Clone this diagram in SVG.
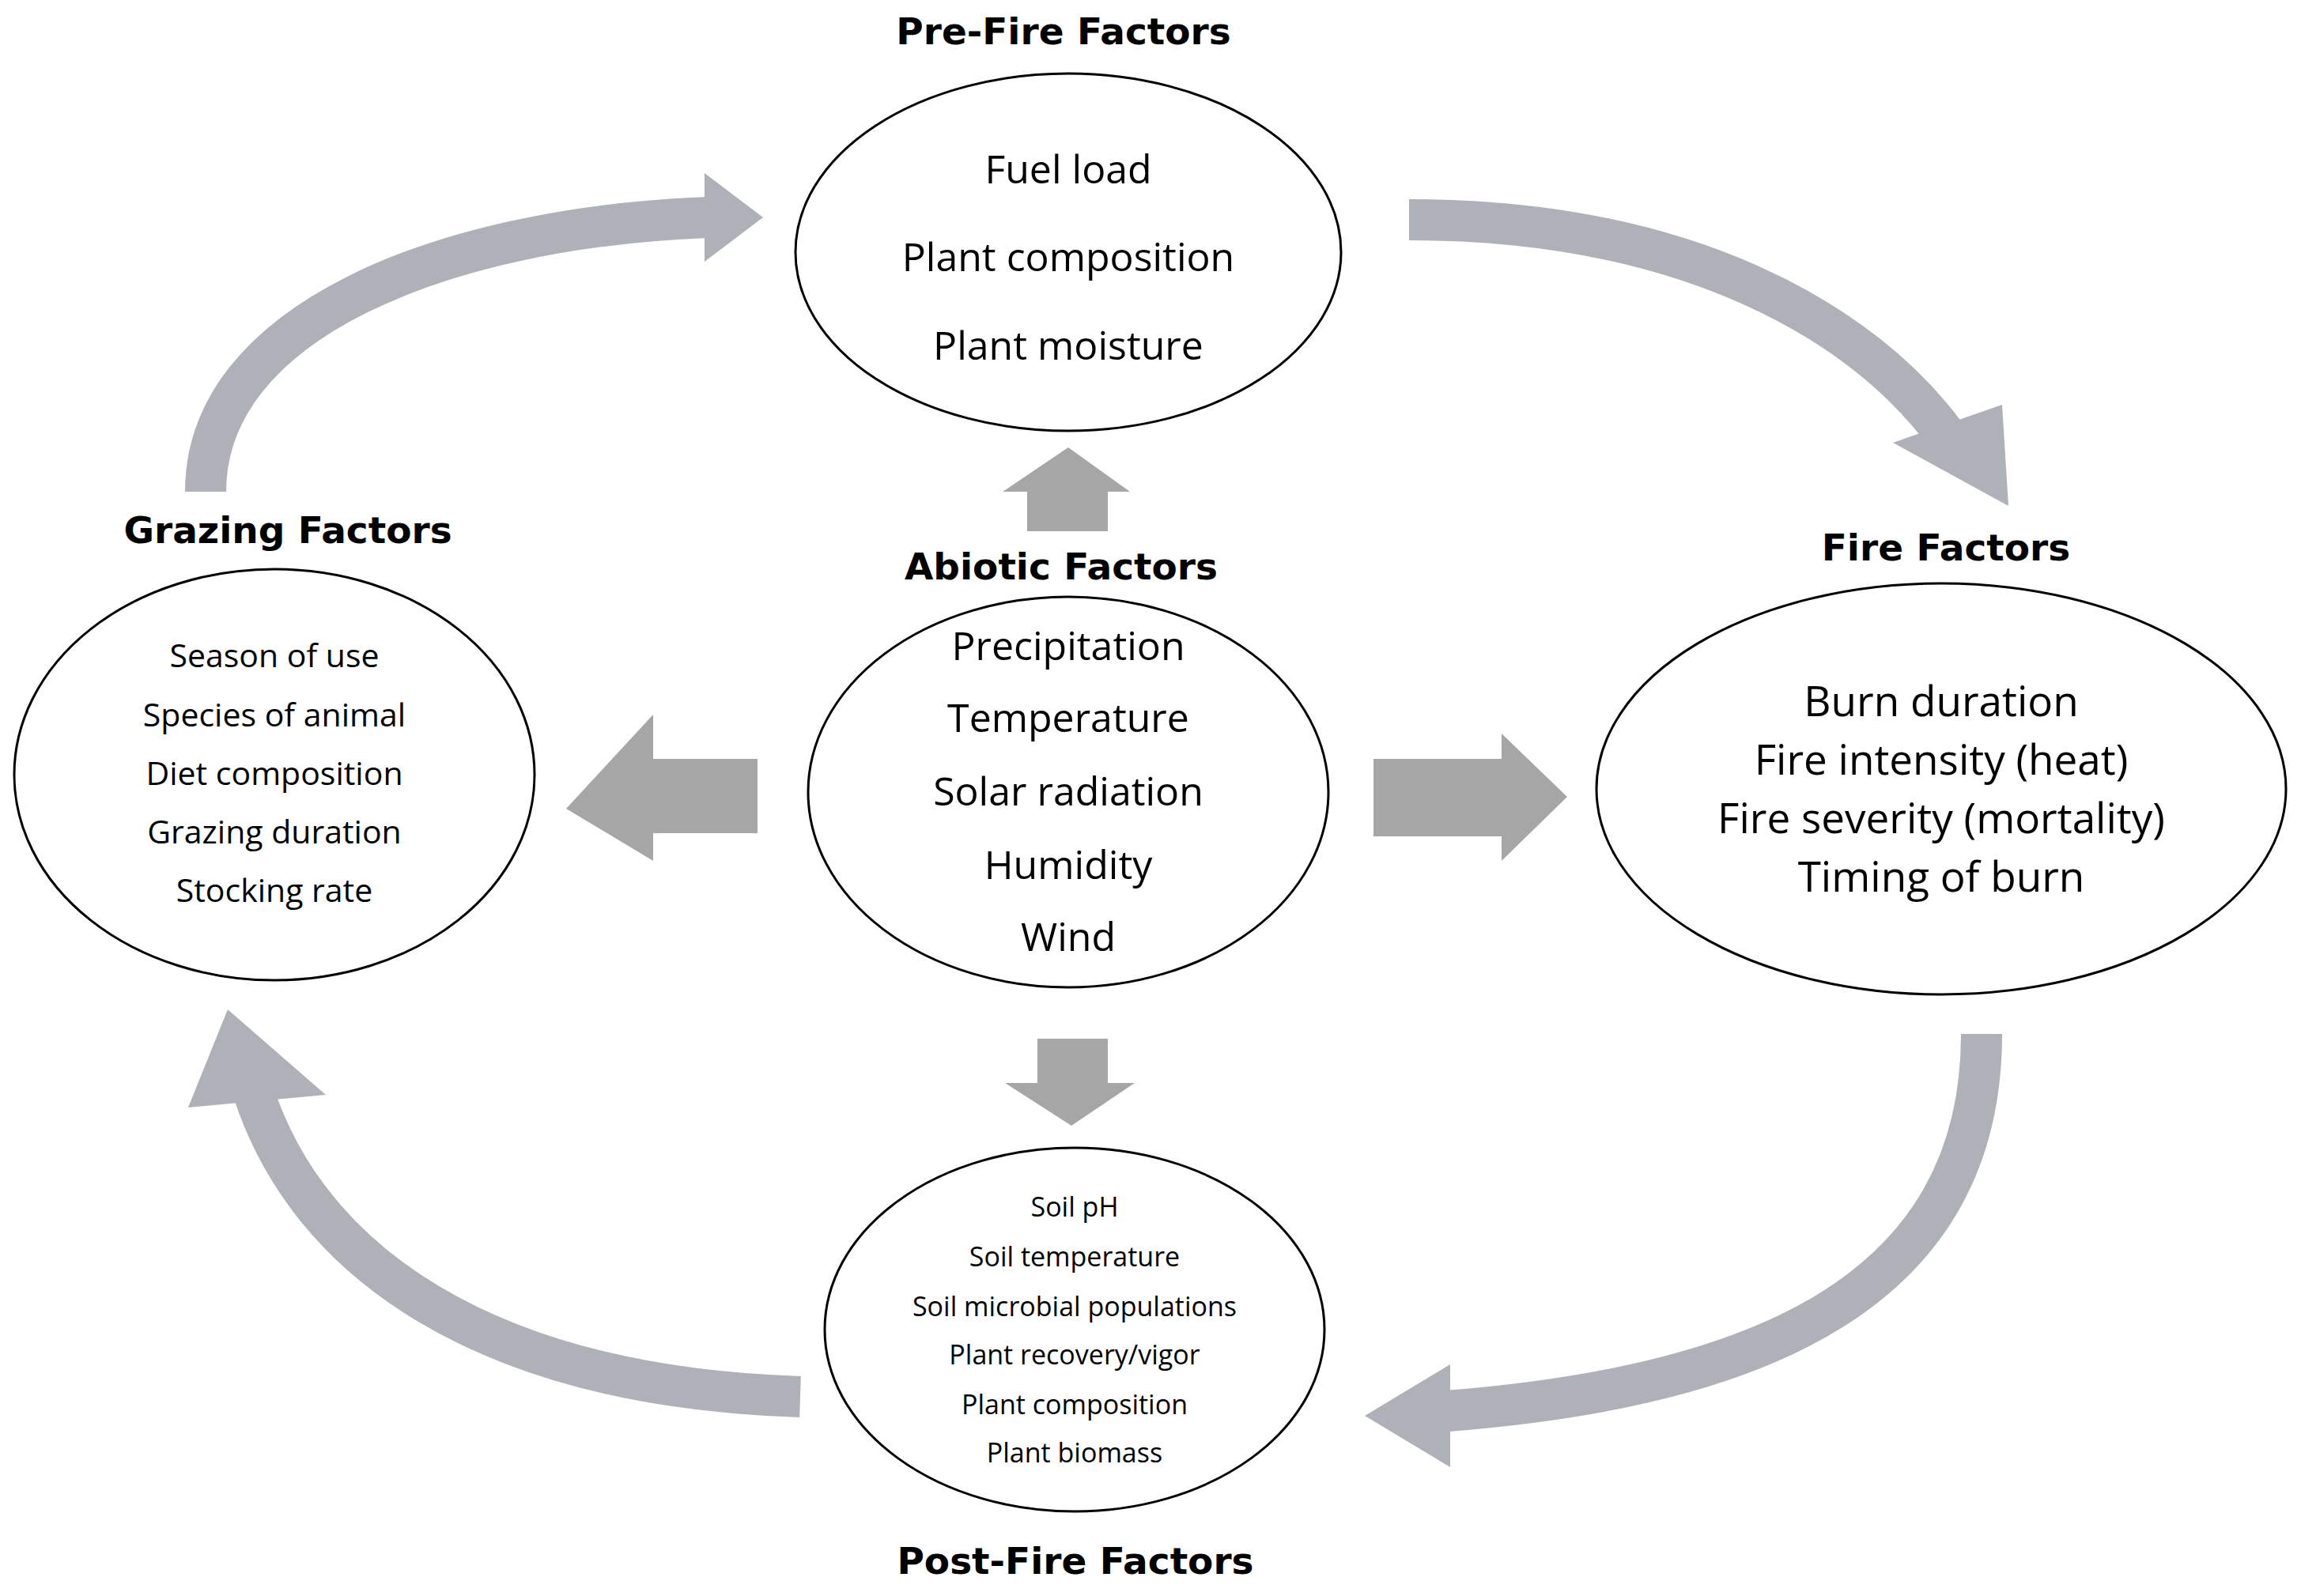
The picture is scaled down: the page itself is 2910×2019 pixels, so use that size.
<svg xmlns="http://www.w3.org/2000/svg" width="2910" height="2019" viewBox="0 0 2910 2019">
<style>
.n{fill:#fff;stroke:#000;stroke-width:3}
.t{font-family:"Open Sans","Noto Sans",sans-serif;text-anchor:middle;fill:#000}
.h{font-family:"DejaVu Sans",sans-serif;font-weight:bold;font-size:47px;text-anchor:middle;fill:#000}
.c{fill:none;stroke:#aeb1b8;stroke-width:52}
.ch{fill:#aeb1b8}
.b{fill:#a6a6a6}
</style>
<rect width="2910" height="2019" fill="#fff"/>
<g id="connectors">
<path class="c" d="M260,622 C260,408 557,288 895,275"/>
<polygon class="ch" points="965,275 891,219 891,331"/>
<path class="c" d="M1782,278 C2134,278 2357,408 2462,552"/>
<polygon class="ch" points="2540,640 2394,560 2532,512"/>
<path class="c" d="M2506,1308 C2506,1633 2227,1754 1830,1785"/>
<polygon class="ch" points="1726,1791 1834,1726 1834,1856"/>
<path class="c" d="M1012,1767 C612,1754 390,1596 320,1380"/>
<polygon class="ch" points="288,1277 238,1401 412,1385"/>
<polygon class="b" points="1299,672 1299,622 1268,622 1351,566 1429,622 1401,622 1401,672"/>
<polygon class="b" points="958,960 826,960 826,904 716,1023 826,1089 826,1054 958,1054"/>
<polygon class="b" points="1737,960 1899,960 1899,928 1982,1008 1899,1089 1899,1058 1737,1058"/>
<polygon class="b" points="1312,1314 1401,1314 1401,1370 1435,1370 1355,1424 1271,1370 1312,1370"/>
</g>
<g id="prefire">
<text class="h" x="1345" y="56">Pre-Fire Factors</text>
<ellipse class="n" cx="1351" cy="319" rx="345" ry="226"/>
<g class="t" font-size="50"><text x="1351" y="232">Fuel load</text><text x="1351" y="343">Plant composition</text><text x="1351" y="455">Plant moisture</text></g>
</g>
<g id="grazing">
<text class="h" x="364" y="687">Grazing Factors</text>
<ellipse class="n" cx="347" cy="980" rx="329" ry="260"/>
<g class="t" font-size="41"><text x="347" y="844">Season of use</text><text x="347" y="919">Species of animal</text><text x="347" y="993">Diet composition</text><text x="347" y="1067">Grazing duration</text><text x="347" y="1141">Stocking rate</text></g>
</g>
<g id="abiotic">
<text class="h" x="1342" y="733">Abiotic Factors</text>
<ellipse class="n" cx="1351" cy="1002" rx="329" ry="247"/>
<g class="t" font-size="50"><text x="1351" y="835">Precipitation</text><text x="1351" y="926">Temperature</text><text x="1351" y="1019">Solar radiation</text><text x="1351" y="1112">Humidity</text><text x="1351" y="1203">Wind</text></g>
</g>
<g id="fire">
<text class="h" x="2461" y="709">Fire Factors</text>
<ellipse class="n" cx="2455" cy="998" rx="436" ry="260"/>
<g class="t" font-size="53"><text x="2455" y="906">Burn duration</text><text x="2455" y="980">Fire intensity (heat)</text><text x="2455" y="1054">Fire severity (mortality)</text><text x="2455" y="1128">Timing of burn</text></g>
</g>
<g id="postfire">
<ellipse class="n" cx="1359" cy="1682" rx="316" ry="230"/>
<g class="t" font-size="34"><text x="1359" y="1539">Soil pH</text><text x="1359" y="1602">Soil temperature</text><text x="1359" y="1665">Soil microbial populations</text><text x="1359" y="1726">Plant recovery/vigor</text><text x="1359" y="1789">Plant composition</text><text x="1359" y="1850">Plant biomass</text></g>
<text class="h" x="1360" y="1991">Post-Fire Factors</text>
</g>
</svg>
